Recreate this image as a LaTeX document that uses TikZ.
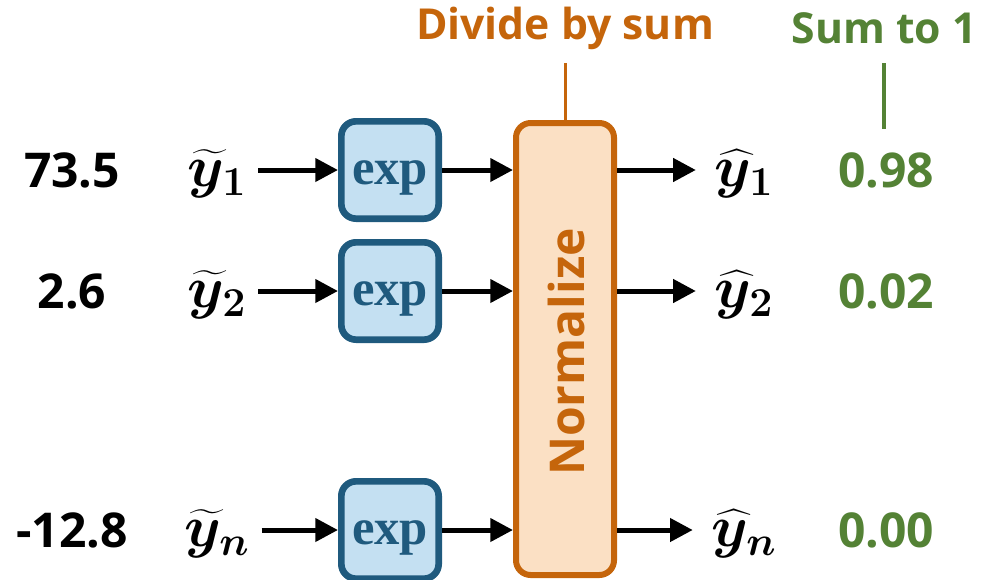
\RequirePackage{fix-cm}
\documentclass[tikz,border=0pt]{standalone}
\usepackage{amsmath}
\usepackage{fontspec}
\setmainfont{Open Sans}
\newfontfamily\expfont{Liberation Serif}
\usepackage{bm}
\usetikzlibrary{arrows.meta}
\definecolor{normorange}{HTML}{C5650B}
\definecolor{normfill}{HTML}{FBE0C4}
\definecolor{expblue}{HTML}{1F5A7E}
\definecolor{expfill}{HTML}{C4E0F2}
\definecolor{sumgreen}{HTML}{548235}

\begin{document}
\begin{tikzpicture}[x=0.75pt,y=-0.75pt,
    font=\fontsize{36}{40}\selectfont\bfseries,
    arr/.style={-{Triangle[length=17pt,width=17pt]},line width=3.75pt},
    expbox/.style={draw=expblue,fill=expfill,line width=5pt,rounded corners=11pt,
      minimum width=73pt,minimum height=73pt,inner sep=0pt,text=expblue,
      text height=24pt,text depth=2pt,
      font=\fontsize{38}{40}\selectfont\expfont\bfseries},
    mathlbl/.style={inner sep=0pt,font=\fontsize{44}{48}\selectfont},
    headlbl/.style={font=\fontsize{32}{36}\selectfont\bfseries}]
  \useasboundingbox (0,0) rectangle (984,579);

  % --- Normalize block ---
  \node[draw=normorange,fill=normfill,line width=4.5pt,rounded corners=11pt,
        minimum width=73.5pt,minimum height=339pt] (norm) at (565,349) {};
  \node[rotate=90,text=normorange] (normlbl) at (566,352) {Normalize};

  % --- Headers ---
  \node[headlbl,text=normorange] (divlbl) at (565,28) {Divide by sum};
  \node[headlbl,text=sumgreen] (sumlbl) at (884,28) {Sum to 1};

  % --- Rows ---
  \foreach \i/\y/\v/\p/\s in {1/170/73.5/0.98/1, 2/291/2.6/0.02/2, 3/530/-12.8/0.00/n} {
    \node (val\i) at (72,\y) {\v};
    \node[mathlbl] (in\i) at (217,\y+4) {$\bm{\widetilde{y}}_{\bm{\s}}$};
    \node[expbox] (exp\i) at (390,\y) {exp};
    \node[mathlbl] (out\i) at (744,\y+4) {$\bm{\widehat{y}}_{\bm{\s}}$};
    \node[text=sumgreen] (prob\i) at (886,\y) {\p};
    \draw[arr,shorten <=9pt] (exp\i.west -| in\i.east) -- (exp\i.west);
    \draw[arr] (exp\i.east) -- (exp\i.east -| norm.west);
    \draw[arr,shorten >=14pt] (exp\i.east -| norm.east) -- (exp\i.east -| out\i.west);
  }

  % --- Header ticks ---
  \draw[normorange,line width=2.25pt] (norm.north) -- (norm.north |- 0,63);
  \draw[sumgreen,line width=3pt] (prob1.north -| sumlbl) ++(0,-19) -- (sumlbl.south |- 0,63);
\end{tikzpicture}
\end{document}
